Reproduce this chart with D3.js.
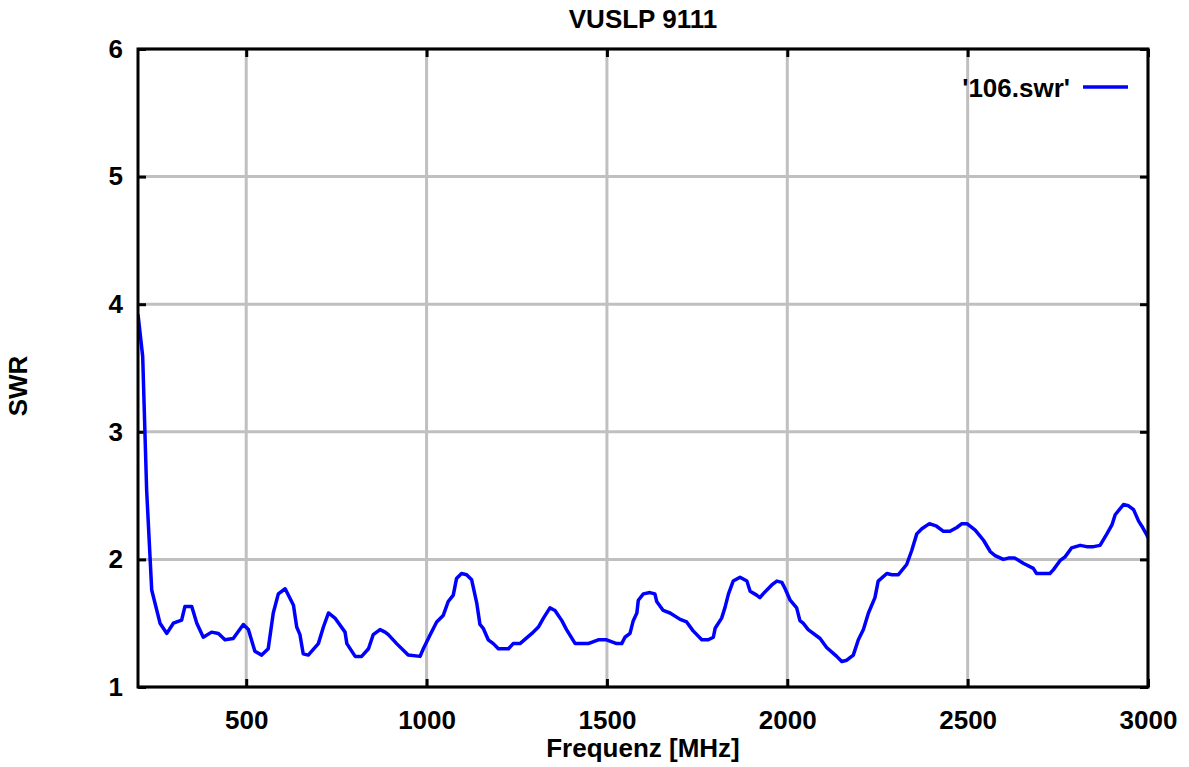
<!DOCTYPE html>
<html>
<head>
<meta charset="utf-8">
<script src="https://cdn.jsdelivr.net/npm/d3@7"></script>
<style>
	body { margin: 0; background: #fff; }
	text { font-family: 'Liberation Sans', Arial, sans-serif; font-weight: bold; }
</style>
</head>
<body>
<div id="chartContainer"></div>
<script>
// Data
var freq = [200, 213, 224, 238, 261, 280, 298, 321, 330, 349, 363, 381, 404, 423, 441, 464, 492, 506, 524, 543,
	561, 575, 589, 608, 631, 640, 649, 658, 672, 700, 714, 728, 746, 774, 779, 802, 820, 839, 852, 871,
	885, 894, 917, 949, 982, 991, 1010, 1028, 1046, 1060, 1074, 1083, 1097, 1111, 1125, 1139, 1148, 1157, 1171, 1185,
	1199, 1227, 1240, 1259, 1292, 1310, 1324, 1342, 1356, 1375, 1388, 1412, 1448, 1476, 1499, 1527, 1541, 1550, 1564, 1573,
	1583, 1587, 1601, 1619, 1633, 1638, 1656, 1675, 1703, 1721, 1739, 1763, 1781, 1795, 1800, 1818, 1827, 1837, 1850, 1869,
	1888, 1897, 1915, 1924, 1933, 1957, 1971, 1985, 1994, 2008, 2026, 2035, 2044, 2058, 2091, 2109, 2137, 2151, 2165, 2183,
	2197, 2211, 2225, 2243, 2252, 2276, 2290, 2308, 2331, 2345, 2359, 2373, 2394, 2414, 2433, 2451, 2470, 2484, 2498, 2521,
	2544, 2563, 2576, 2599, 2613, 2631, 2654, 2682, 2691, 2728, 2738, 2756, 2770, 2788, 2812, 2830, 2849, 2867, 2886, 2900,
	2909, 2932, 2946, 2960, 2974, 2983, 2997, 3000];
var swr = [3.92, 3.59, 2.54, 1.76, 1.50, 1.42, 1.50, 1.525, 1.63, 1.63, 1.50, 1.39, 1.43, 1.42, 1.37, 1.38, 1.49, 1.45, 1.28, 1.25,
	1.30, 1.58, 1.73, 1.77, 1.64, 1.47, 1.41, 1.26, 1.25, 1.34, 1.47, 1.58, 1.54, 1.43, 1.34, 1.24, 1.24, 1.30, 1.41, 1.45,
	1.43, 1.41, 1.34, 1.25, 1.24, 1.30, 1.41, 1.51, 1.56, 1.67, 1.72, 1.85, 1.89, 1.88, 1.84, 1.66, 1.49, 1.46, 1.37, 1.34,
	1.30, 1.30, 1.34, 1.34, 1.42, 1.47, 1.54, 1.62, 1.60, 1.52, 1.45, 1.34, 1.34, 1.37, 1.37, 1.34, 1.34, 1.39, 1.42, 1.52,
	1.58, 1.68, 1.73, 1.74, 1.73, 1.67, 1.60, 1.58, 1.53, 1.51, 1.44, 1.37, 1.37, 1.39, 1.46, 1.54, 1.62, 1.73, 1.83, 1.86,
	1.83, 1.75, 1.72, 1.70, 1.73, 1.80, 1.83, 1.82, 1.77, 1.68, 1.62, 1.52, 1.50, 1.45, 1.38, 1.31, 1.24, 1.20, 1.21, 1.25,
	1.37, 1.45, 1.58, 1.70, 1.83, 1.89, 1.88, 1.88, 1.96, 2.07, 2.20, 2.24, 2.28, 2.26, 2.22, 2.22, 2.25, 2.28, 2.28, 2.23,
	2.15, 2.06, 2.03, 2.00, 2.01, 2.01, 1.97, 1.93, 1.89, 1.89, 1.92, 1.99, 2.02, 2.09, 2.11, 2.10, 2.10, 2.11, 2.20, 2.27,
	2.35, 2.43, 2.42, 2.39, 2.30, 2.26, 2.19, 2.17];
var x_ticks = [500, 1000, 1500, 2000, 2500, 3000];
var y_ticks = [1, 2, 3, 4, 5, 6];
var title = 'VUSLP 9111';
var x_label = 'Frequenz [MHz]';
var y_label = 'SWR';
var series_name = "'106.swr'";

var total_width = 1189;
var total_height = 767;
var margin = {
	top: 49,
	right: 41,
	bottom: 80,
	left: 138
};
var width = total_width - margin.left - margin.right;
var height = total_height - margin.top - margin.bottom;
var tick_len = 8;
var font_size = 26;

var svg = d3.select('#chartContainer')
	.append('svg')
	.attr('width', total_width)
	.attr('height', total_height);

var main = svg.append('g')
	.attr('transform', 'translate(' + margin.left + ',' + margin.top + ')');

var x_scale = d3.scaleLinear().domain([200, 3000]).range([0, width]);
var y_scale = d3.scaleLinear().domain([1, 6]).range([height, 0]);

// Grid lines
main.selectAll('.gridx')
	.data(x_ticks)
	.enter()
	.append('line')
	.attr('x1', function(d) { return x_scale(d); })
	.attr('x2', function(d) { return x_scale(d); })
	.attr('y1', 0)
	.attr('y2', height)
	.attr('stroke', '#c0c0c0')
	.attr('stroke-width', 3);

main.selectAll('.gridy')
	.data(y_ticks)
	.enter()
	.append('line')
	.attr('x1', 0)
	.attr('x2', width)
	.attr('y1', function(d) { return y_scale(d); })
	.attr('y2', function(d) { return y_scale(d); })
	.attr('stroke', '#c0c0c0')
	.attr('stroke-width', 3);

// Axes with inward ticks, mirrored on top and right
var fmt = d3.format('d');
var axes = [
	d3.axisBottom(x_scale).tickValues(x_ticks).tickSize(-tick_len).tickPadding(24).tickFormat(fmt),
	d3.axisTop(x_scale).tickValues(x_ticks).tickSize(-tick_len).tickFormat(''),
	d3.axisLeft(y_scale).tickValues(y_ticks).tickSize(-tick_len).tickPadding(15).tickFormat(fmt),
	d3.axisRight(y_scale).tickValues(y_ticks).tickSize(-tick_len).tickFormat('')
];
var axis_pos = [[0, height], [0, 0], [0, 0], [width, 0]];
axes.forEach(function(a, i) {
	var g = main.append('g')
		.attr('transform', 'translate(' + axis_pos[i][0] + ',' + axis_pos[i][1] + ')')
		.call(a);
	g.select('.domain').remove();
	g.selectAll('.tick line').attr('stroke', '#000').attr('stroke-width', 3);
	g.selectAll('.tick text')
		.attr('font-size', font_size + 'px')
		.attr('fill', '#000');
});

// Clip the curve to the frame
main.append('clipPath')
	.attr('id', 'plotclip')
	.append('rect')
	.attr('width', width)
	.attr('height', height);

var points = freq.map(function(f, i) { return [f, swr[i]]; });
var line = d3.line()
	.x(function(d) { return x_scale(d[0]); })
	.y(function(d) { return y_scale(d[1]); });

main.append('path')
	.datum(points)
	.attr('clip-path', 'url(#plotclip)')
	.attr('d', line)
	.attr('fill', 'none')
	.attr('stroke', '#0000ff')
	.attr('stroke-width', 3.5)
	.attr('stroke-linejoin', 'round');

// Frame
main.append('rect')
	.attr('width', width)
	.attr('height', height)
	.attr('fill', 'none')
	.attr('stroke', '#000')
	.attr('stroke-width', 3);

// Legend
main.append('text')
	.attr('x', 1070 - margin.left)
	.attr('y', 97 - margin.top)
	.attr('text-anchor', 'end')
	.attr('font-size', font_size + 'px')
	.text(series_name);
main.append('line')
	.attr('x1', 1083 - margin.left)
	.attr('x2', 1128 - margin.left)
	.attr('y1', 87 - margin.top)
	.attr('y2', 87 - margin.top)
	.attr('stroke', '#0000ff')
	.attr('stroke-width', 3.5);

// Title and axis labels
svg.append('text')
	.attr('x', margin.left + width / 2)
	.attr('y', 28)
	.attr('text-anchor', 'middle')
	.attr('font-size', font_size + 'px')
	.text(title);

svg.append('text')
	.attr('x', margin.left + width / 2)
	.attr('y', 757)
	.attr('text-anchor', 'middle')
	.attr('font-size', font_size + 'px')
	.text(x_label);

svg.append('text')
	.attr('transform', 'translate(' + 27 + ',' + 386 + ') rotate(-90)')
	.attr('text-anchor', 'middle')
	.attr('font-size', font_size + 'px')
	.text(y_label);
</script>
</body>
</html>
